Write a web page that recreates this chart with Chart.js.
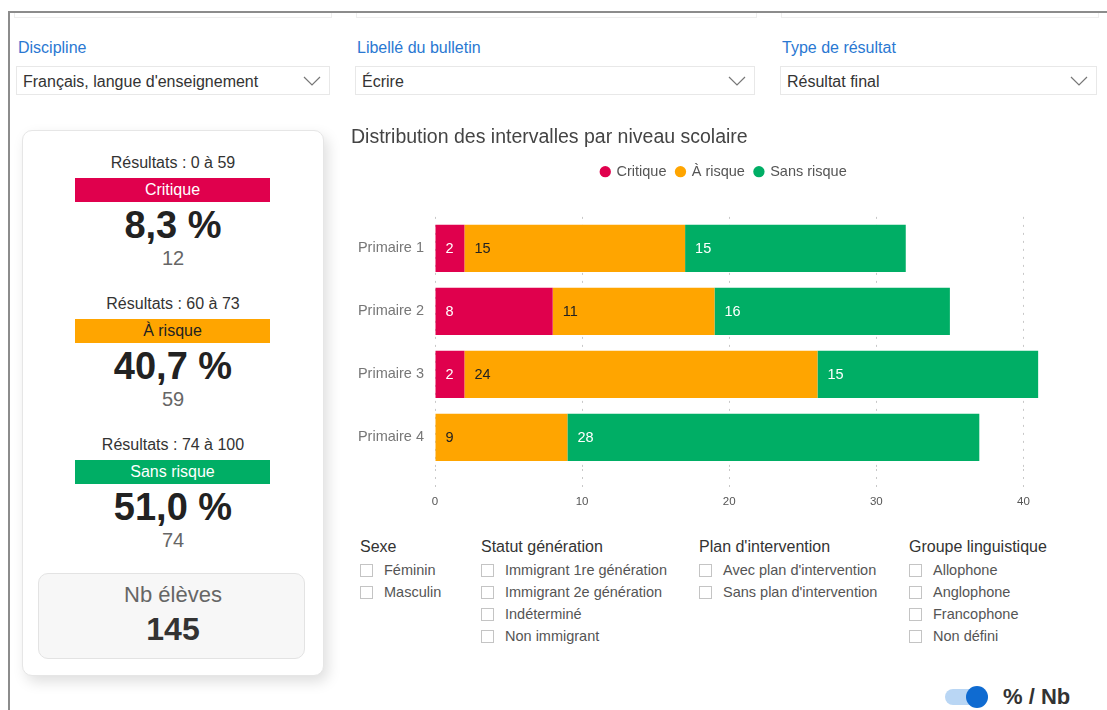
<!DOCTYPE html>
<html lang="fr">
<head>
<meta charset="utf-8">
<title>Distribution des intervalles par niveau scolaire</title>
<script src="https://cdn.jsdelivr.net/npm/chart.js@4.4.1/dist/chart.umd.min.js"></script>
<style>
  html, body { margin: 0; padding: 0; background: #fff; }
  body { width: 1107px; height: 710px; position: relative; overflow: hidden;
         font-family: "Liberation Sans", Arial, sans-serif; color: #333; }
  .abs { position: absolute; white-space: nowrap; }
  .frame-top { left: 8px; top: 11px; width: 1099px; height: 2px; background: #8c8c8c; }
  .frame-left { left: 8px; top: 11px; width: 2px; height: 699px; background: #8c8c8c; }
  .ghost { top: 13px; height: 4px; border: 1px solid #eee; border-top: none; }
  .flabel { top: 38px; font-size: 16px; line-height: 20px; color: #2a78d2; }
  .select { top: 66px; height: 29px; border: 1px solid #e8e8e8; box-sizing: border-box;
            font-size: 16px; line-height: 29px; color: #333; padding-left: 6px; }
  .select svg { position: absolute; right: 8px; top: 9px; }
  .card { left: 22px; top: 130px; width: 302px; height: 546px; border: 1px solid #e6e6e6;
          border-radius: 10px; box-sizing: border-box; background: #fff;
          box-shadow: 4px 6px 14px rgba(0,0,0,0.13); }
  .center { left: 22px; width: 302px; text-align: center; }
  .range { font-size: 16px; line-height: 20px; color: #333; }
  .band { left: 75px; width: 195px; height: 24px; line-height: 24px; text-align: center; font-size: 16px; }
  .pct { font-size: 38px; line-height: 44px; font-weight: bold; color: #222; }
  .count { font-size: 20px; line-height: 24px; color: #666; }
  .nbbox { left: 38px; top: 573px; width: 267px; height: 86px; background: #f7f7f7;
           border: 1px solid #e3e3e3; border-radius: 10px; box-sizing: border-box; }
  .fhead { font-size: 16px; line-height: 20px; color: #333; }
  .fitem { font-size: 14.5px; line-height: 18px; color: #555; }
  .cb { width: 13px; height: 13px; border: 1px solid #c4c4c4; box-sizing: border-box; background: #fff; }
  #chartWrap { position: absolute; left: 340px; top: 120px; width: 767px; height: 391px; }
</style>
</head>
<body>

<div class="abs frame-top"></div>
<div class="abs frame-left"></div>
<div class="abs ghost" style="left:14px;width:316px"></div>
<div class="abs ghost" style="left:356px;width:399px"></div>
<div class="abs ghost" style="left:781px;width:316px"></div>

<div id="filters"></div>
<div id="summary"></div>
<div id="slicers"></div>

<div id="chartWrap"><canvas id="distChart" width="767" height="391"></canvas></div>

<div class="abs" style="left:945px;top:689px;width:40px;height:16px;border-radius:8px;background:#b9d6f4"></div>
<div class="abs" style="left:966px;top:686px;width:22px;height:22px;border-radius:11px;background:#0f6bd1"></div>
<div class="abs" style="left:1003px;top:685px;font-size:22px;line-height:24px;font-weight:bold;color:#333">% / Nb</div>

<script>
// chart data
const levels = ['Primaire 1', 'Primaire 2', 'Primaire 3', 'Primaire 4'];
const seriesNames = ['Critique', 'À risque', 'Sans risque'];
const critique = [2, 8, 2, 0];
const aRisque = [15, 11, 24, 9];
const sansRisque = [15, 16, 15, 28];
const xTicks = [0, 10, 20, 30, 40];

const colors = ['#e0004d', '#ffa500', '#00ae65'];
const labelColors = ['#ffffff', '#222222', '#ffffff'];

// summary panel
const ranges = ['Résultats : 0 à 59', 'Résultats : 60 à 73', 'Résultats : 74 à 100'];
const percents = ['8,3 %', '40,7 %', '51,0 %'];
const counts = [12, 59, 74];
const totalStudents = 145;

// dropdowns
const filterLabels = ['Discipline', 'Libellé du bulletin', 'Type de résultat'];
const filterValues = ['Français, langue d\'enseignement', 'Écrire', 'Résultat final'];

// slicers
const slicerGroups = [
    { title: 'Sexe', items: ['Féminin', 'Masculin'] },
    { title: 'Statut génération', items: ['Immigrant 1re génération', 'Immigrant 2e génération', 'Indéterminé', 'Non immigrant'] },
    { title: 'Plan d\'intervention', items: ['Avec plan d\'intervention', 'Sans plan d\'intervention'] },
    { title: 'Groupe linguistique', items: ['Allophone', 'Anglophone', 'Francophone', 'Non défini'] }
];

// --- dropdowns
const filterBoxes = [[16, 314], [355, 400], [780, 317]];
let html = '';
filterLabels.forEach((lab, i) => {
    const [x, w] = filterBoxes[i];
    html += `<div class="abs flabel" style="left:${x + 2}px">${lab}</div>`;
    html += `<div class="abs select" style="left:${x}px;width:${w}px">${filterValues[i]}
        <svg width="18" height="10" viewBox="0 0 18 10"><polyline points="1,1 9,9 17,1" fill="none" stroke="#777" stroke-width="1.2"/></svg></div>`;
});
document.getElementById('filters').innerHTML = html;

// --- summary card
html = '<div class="abs card"></div>';
ranges.forEach((r, i) => {
    const y = 153 + i * 141;
    const txt = i === 1 ? '#222' : '#fff';
    html += `<div class="abs center range" style="top:${y}px">${r}</div>`;
    html += `<div class="abs band" style="top:${y + 25}px;background:${colors[i]};color:${txt}">${seriesNames[i]}</div>`;
    html += `<div class="abs center pct" style="top:${y + 50}px">${percents[i]}</div>`;
    html += `<div class="abs center count" style="top:${y + 93}px">${counts[i]}</div>`;
});
html += '<div class="abs nbbox"></div>';
html += '<div class="abs center" style="top:582px;font-size:22px;line-height:26px;color:#666">Nb élèves</div>';
html += `<div class="abs center" style="top:611px;font-size:32px;line-height:36px;font-weight:bold;color:#333">${totalStudents}</div>`;
document.getElementById('summary').innerHTML = html;

// --- slicers
const slicerX = [360, 481, 699, 909];
html = '';
slicerGroups.forEach((g, i) => {
    const x = slicerX[i];
    html += `<div class="abs fhead" style="left:${x}px;top:537px">${g.title}</div>`;
    g.items.forEach((it, j) => {
        const y = 570 + j * 22;
        html += `<div class="abs cb" style="left:${x}px;top:${y - 6}px"></div>`;
        html += `<div class="abs fitem" style="left:${x + 24}px;top:${y - 9}px">${it}</div>`;
    });
});
document.getElementById('slicers').innerHTML = html;

// --- chart
// value labels drawn at the start of each segment
const barLabels = {
    id: 'barLabels',
    afterDatasetsDraw(chart) {
        const ctx = chart.ctx;
        ctx.save();
        ctx.font = '14.5px "Liberation Sans", Arial, sans-serif';
        ctx.textBaseline = 'middle';
        ctx.textAlign = 'left';
        chart.data.datasets.forEach((ds, i) => {
            chart.getDatasetMeta(i).data.forEach((bar, j) => {
                const v = ds.data[j];
                if (!v) return;
                ctx.fillStyle = labelColors[i];
                ctx.fillText(String(v), Math.min(bar.base, bar.x) + 10, bar.y + 1);
            });
        });
        ctx.restore();
    }
};

// extra room between legend and plot
const legendSpacer = {
    id: 'legendSpacer',
    beforeInit(chart) {
        const fit = chart.legend.fit;
        chart.legend.fit = function() {
            fit.bind(chart.legend)();
            this.height += 28;
        };
    }
};

const ctx = document.getElementById('distChart').getContext('2d');
new Chart(ctx, {
    type: 'bar',
    data: {
        labels: levels,
        datasets: [
            { label: seriesNames[0], data: critique, backgroundColor: colors[0] },
            { label: seriesNames[1], data: aRisque, backgroundColor: colors[1] },
            { label: seriesNames[2], data: sansRisque, backgroundColor: colors[2] }
        ]
    },
    options: {
        indexAxis: 'y',
        responsive: false,
        animation: false,
        devicePixelRatio: 1,
        categoryPercentage: 1,
        barPercentage: 0.75,
        layout: { padding: { left: 11, right: 10, top: 0, bottom: 0 } },
        scales: {
            x: {
                stacked: true,
                min: 0,
                max: 45,
                afterBuildTicks: scale => {
                    scale.ticks = xTicks.map(v => ({ value: v }));
                },
                afterFit: scale => { scale.height = 42; },
                border: { display: false, dash: [2, 6] },
                grid: {
                    color: '#c8c8c8',
                    tickLength: 22,
                    tickColor: '#c8c8c8',
                    tickBorderDash: [2, 6]
                },
                ticks: {
                    padding: 4,
                    color: '#555',
                    font: { family: '"Liberation Sans", Arial, sans-serif', size: 11.5 }
                }
            },
            y: {
                stacked: true,
                afterFit: scale => { scale.width = 84; },
                border: { display: false },
                grid: { display: false, drawTicks: false },
                ticks: {
                    padding: 11,
                    color: '#777',
                    font: { family: '"Liberation Sans", Arial, sans-serif', size: 14.5 }
                }
            }
        },
        plugins: {
            title: {
                display: true,
                text: 'Distribution des intervalles par niveau scolaire',
                align: 'start',
                color: '#444',
                padding: { top: 6, bottom: 5 },
                font: { family: '"Liberation Sans", Arial, sans-serif', size: 19.5, weight: 'normal' }
            },
            legend: {
                position: 'top',
                labels: {
                    usePointStyle: true,
                    pointStyle: 'circle',
                    boxWidth: 8,
                    boxHeight: 8,
                    padding: 10,
                    color: '#555',
                    font: { family: '"Liberation Sans", Arial, sans-serif', size: 14.5 }
                }
            },
            tooltip: { enabled: false }
        }
    },
    plugins: [barLabels, legendSpacer]
});
</script>
</body>
</html>
